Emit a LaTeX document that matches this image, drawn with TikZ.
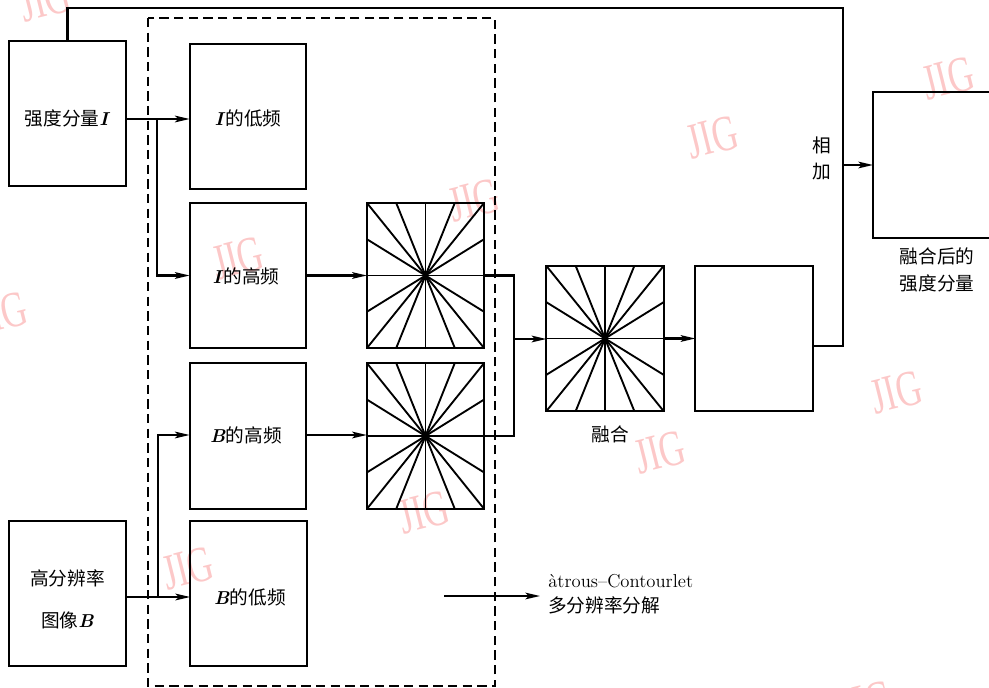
\documentclass[tikz,border=0pt]{standalone}
\usepackage{fontspec}
\newfontfamily\cjk{Noto Sans CJK SC}
\newfontfamily\wmfont{Liberation Serif}
\usetikzlibrary{arrows.meta,calc}
\definecolor{wmc}{RGB}{252,200,200}
\newcommand\bI{\textbf{\textit{I}}}
\newcommand\bB{\textbf{\textit{B}}}
\newcommand\rays[1]{%
 \draw[ray] (#1.north) -- (#1.south);
 \draw[ray] (#1.west) -- (#1.east);
 \draw[ray] (#1.north west) -- (#1.south east);
 \draw[ray] (#1.north east) -- (#1.south west);
 \draw[ray] ($(#1.north west)!.25!(#1.north east)$) -- ($(#1.south west)!.75!(#1.south east)$);
 \draw[ray] ($(#1.north west)!.75!(#1.north east)$) -- ($(#1.south west)!.25!(#1.south east)$);
 \draw[ray] ($(#1.north west)!.25!(#1.south west)$) -- ($(#1.north east)!.75!(#1.south east)$);
 \draw[ray] ($(#1.north west)!.75!(#1.south west)$) -- ($(#1.north east)!.25!(#1.south east)$);
}
\begin{document}
\begin{tikzpicture}[x=0.75pt,y=-0.75pt,
  every node/.style={font=\fontsize{14}{18}\selectfont},
  blk/.style={draw,line width=1.7pt,inner sep=0pt,outer sep=0pt,minimum width=87.5pt,minimum height=109pt},
  sq/.style={draw,line width=1.7pt,inner sep=0pt,outer sep=0pt,minimum width=88pt,minimum height=109pt},
  ray/.style={line width=1.4pt},
  ln/.style={line width=1.7pt},
  arr/.style={line width=1.6pt,-{Stealth[length=11pt,width=5pt,inset=2.5pt]}},
  wm/.style={text=wmc,font=\wmfont\fontsize{38}{38}\selectfont,rotate=14,xscale=0.7,inner sep=0pt},
  lbl/.style={inner sep=0pt}]
\clip (0,0) rectangle (989,688);
\useasboundingbox (0,0) rectangle (989,688);

% watermarks
\foreach \p in {(45,0),(948,78),(712,137),(474,200),(238,258),(2,313),(896,392),(660,452),(424,512),(188,568),(866,702)}
  \node[wm] at \p {JIG};

% dashed frame
\draw[line width=1.6pt,dash pattern=on 7pt off 4pt] (148,18) rectangle (495,686);

% blocks
\node[blk] (sI) at (67.5,113.5) {};
\node[lbl] at (67.5,118) {{\cjk 强度分量}\bI};
\node[blk] (Ilow) at (248,116.5) {};
\node[lbl] at (248,118) {\bI{\cjk 的低频}};
\node[blk] (Ihigh) at (248,275.5) {};
\node[lbl] at (246,276) {\bI{\cjk 的高频}};
\node[blk,minimum height=109.5pt] (Bhigh) at (248,436) {};
\node[lbl] at (246,435) {\bB{\cjk 的高频}};
\node[blk] (Blow) at (248.5,593.5) {};
\node[lbl] at (250,597) {\bB{\cjk 的低频}};
\node[blk] (Bimg) at (67.5,593.5) {};
\node[lbl] at (67.5,578) {\cjk 高分辨率};
\node[lbl] at (67.5,620) {{\cjk 图像}\bB};
\node[sq] (sq1) at (425.5,275.5) {};
\node[sq,minimum height=109.5pt] (sq2) at (425.5,436) {};
\node[sq] (sqF) at (605,338.5) {};
\node[sq] (res) at (754,338.5) {};
\node[sq,minimum width=96pt] (out) at (937,165) {};
\rays{sq1}
\rays{sq2}
\rays{sqF}

% labels
\node[lbl] (lf) at (610,434) {\cjk 融合};
\node[lbl] (la) at (822,145) {\cjk 相};
\node[lbl] (lb) at (822,172) {\cjk 加};
\node[lbl] (lo1) at (937,256) {\cjk 融合后的};
\node[lbl] (lo2) at (937,283) {\cjk 强度分量};

% connectors
\coordinate (j1) at (157,119);
\coordinate (j2) at (158,597);
\coordinate (m) at (514,339);
\coordinate (top) at (843,8);
\draw[arr] (sI.east |- j1) -- (Ilow.west |- j1);
\draw[arr] (j1) |- (Ihigh.west);
\draw[arr] (Bimg.east |- j2) -- (Blow.west |- j2);
\draw[arr] (j2) |- (Bhigh.west |- 0,435);
\draw[arr] (Ihigh.east) -- (sq1.west);
\draw[arr] (Bhigh.east |- 0,435) -- (sq2.west |- 0,435);
\draw[ln] (sq1.east) -| (m) |- (sq2.east);
\draw[arr] (m) -- (sqF.west |- m);
\draw[arr] (sqF.east) -- (res.west);
\draw[ln] (sI.north) |- (top) |- (res.east |- 0,346);
\draw[arr] (top |- out.west) -- (out.west);

% legend
\coordinate (l1) at (444,596);
\node[anchor=west,align=left,inner sep=0pt,font=\fontsize{14}{19}\selectfont] (leg) at (548,594) {\`atrous--Contourlet\\{\cjk 多分辨率分解}};
\draw[arr] (l1) -- (540,596);
\end{tikzpicture}
\end{document}
